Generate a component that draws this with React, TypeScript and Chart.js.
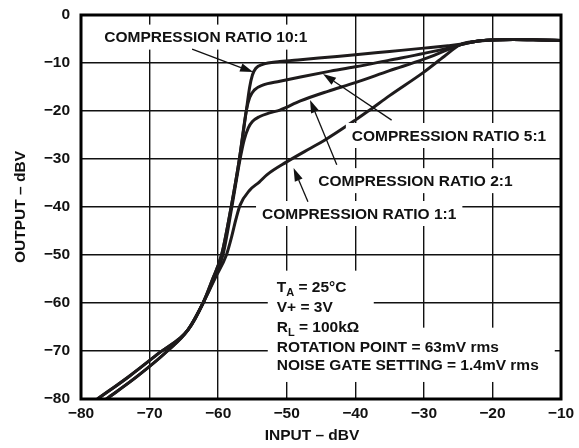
import React, { useEffect, useRef } from "react";
import { Chart, registerables } from "chart.js";

Chart.register(...registerables);

const FONT = '"Liberation Sans", Arial, Helvetica, sans-serif';

// Axis ranges / ticks
const xMin = -80;
const xMax = -10;
const yMin = -80;
const yMax = 0;
const tickStep = 10;

// Shared high-level tail (all ratios converge at the rotation point)
const tailX = [-22.5, -20, -17, -13, -10];
const tailY = [-5.5, -5.2, -5.1, -5.2, -5.3];

// COMPRESSION RATIO 10:1
const ratio10X = [-77.6, -73, -68.6, -64.4, -62.2, -60.8, -59.5, -58.1, -56.9, -55.9, -55.4, -55.0, -54.5, -53.5, -51, -48, -44, -40, -35, -30, -26.5, -24.7];
const ratio10Y = [-80, -75.3, -70.4, -65.6, -60, -55, -50, -40, -30, -20, -15, -12.5, -11.1, -10.3, -9.7, -9.3, -8.8, -8.3, -7.6, -6.9, -6.4, -6.1];

// COMPRESSION RATIO 5:1
const ratio5X = [-77.6, -73, -68.6, -64.4, -62.2, -60.8, -59.5, -58.1, -56.9, -55.9, -55.4, -54.7, -53.5, -51, -48, -44, -40, -35, -30, -26.5, -24.7];
const ratio5Y = [-80, -75.3, -70.4, -65.6, -60, -55, -50, -40, -30, -20, -17.2, -15.6, -14.6, -13.8, -12.9, -11.8, -10.8, -9.4, -8.0, -6.9, -6.2];

// COMPRESSION RATIO 2:1
const ratio2X = [-76.3, -72, -67.4, -64.4, -62.2, -60.6, -59.3, -58.0, -56.8, -56.2, -55.6, -55.0, -54.0, -52.5, -51, -48, -44, -40, -35, -30, -26.5, -24.7];
const ratio2Y = [-80, -75.5, -70, -65.6, -60, -55, -50, -40, -30, -26, -23.5, -22.2, -21.2, -20.4, -19.8, -17.9, -15.9, -14.1, -11.6, -9.2, -7.2, -6.2];

// COMPRESSION RATIO 1:1
const ratio1X = [-76.3, -72, -67.4, -64.4, -62.2, -60.5, -58.8, -58.0, -57.4, -56.8, -55.4, -54, -52.9, -50, -46.6, -44.6, -40, -38.1, -35, -30, -27, -24.7];
const ratio1Y = [-80, -75.5, -70, -65.6, -60, -55, -50, -46, -42.5, -39.6, -36.5, -34.8, -33.3, -30.6, -27.8, -26.2, -21.9, -20, -16.8, -11.9, -8.6, -6.2];

const seriesNames = ["COMPRESSION RATIO 10:1", "COMPRESSION RATIO 5:1", "COMPRESSION RATIO 2:1", "COMPRESSION RATIO 1:1"];

// Annotation label anchors (data coordinates: left edge x, vertical centre y)
const labelX = [-76.6, -40.5, -45.4, -53.6];
const labelY = [-4.5, -25.0, -34.4, -41.25];
// Arrows: from (tail) -> to (head), data coordinates
const arrowFromX = [-63.8, -34.7, -42.7, -46.9];
const arrowFromY = [-7.1, -21.9, -31.2, -38.9];
const arrowToX = [-54.9, -44.7, -46.6, -49.0];
const arrowToY = [-11.9, -12.3, -17.7, -31.9];

// Test conditions block
const condLeftX = -51.45;
const condLineY = [-56.6, -60.8, -64.8, -69.1, -72.7];

function toPairs(xs: number[], ys: number[]) {
  return xs.map((x, i) => ({ x, y: ys[i] }));
}

const minus = (s: string) => s.replace(/-/g, "\u2212");

const annotationPlugin = {
  id: "annotations",
  afterDatasetsDraw(chart: any) {
    const { ctx, chartArea, scales } = chart;
    const X = (v: number) => scales.x.getPixelForValue(v);
    const Y = (v: number) => scales.y.getPixelForValue(v);
    const fs = 15.5;
    const cap = fs * 0.358;
    ctx.save();
    ctx.font = `bold ${fs}px ${FONT}`;
    ctx.textAlign = "left";
    ctx.textBaseline = "alphabetic";

    // ratio labels with white backing
    seriesNames.forEach((t, i) => {
      const lx = X(labelX[i]);
      const cy = Y(labelY[i]);
      const w = ctx.measureText(t).width;
      ctx.fillStyle = "#fff";
      ctx.fillRect(lx - 6, cy - 12, w + 12, 25);
    });

    // conditions block backing
    const cl = X(condLeftX);
    const cys = condLineY.map(Y);
    ctx.fillStyle = "#fff";
    ctx.fillRect(cl - 9, cys[0] - 16, 106, cys[2] - cys[0] + 26);
    ctx.fillRect(cl - 9, cys[3] - 19, 287, cys[4] - cys[3] + 37);

    // ratio labels text
    ctx.fillStyle = "#111";
    seriesNames.forEach((t, i) => {
      ctx.fillText(t, X(labelX[i]), Y(labelY[i]) + cap);
    });

    // arrows
    ctx.strokeStyle = "#111";
    ctx.lineWidth = 1.3;
    for (let i = 0; i < arrowFromX.length; i++) {
      const x1 = X(arrowFromX[i]);
      const y1 = Y(arrowFromY[i]);
      const x2 = X(arrowToX[i]);
      const y2 = Y(arrowToY[i]);
      const a = Math.atan2(y2 - y1, x2 - x1);
      const hl = 13;
      const hw = 4.2;
      const bx = x2 - hl * Math.cos(a);
      const by = y2 - hl * Math.sin(a);
      ctx.beginPath();
      ctx.moveTo(x1, y1);
      ctx.lineTo(bx, by);
      ctx.stroke();
      ctx.beginPath();
      ctx.moveTo(x2, y2);
      ctx.lineTo(bx + hw * Math.sin(a), by - hw * Math.cos(a));
      ctx.lineTo(bx - hw * Math.sin(a), by + hw * Math.cos(a));
      ctx.closePath();
      ctx.fill();
    }

    // conditions text with subscripts
    const drawSub = (main: string, sub: string, rest: string, y: number) => {
      let x = cl;
      ctx.font = `bold ${fs}px ${FONT}`;
      ctx.fillText(main, x, y);
      x += ctx.measureText(main).width;
      ctx.font = `bold 11px ${FONT}`;
      ctx.fillText(sub, x, y + 4);
      x += ctx.measureText(sub).width;
      ctx.font = `bold ${fs}px ${FONT}`;
      ctx.fillText(rest, x, y);
    };
    drawSub("T", "A", " = 25°C", cys[0] + cap);
    ctx.font = `bold ${fs}px ${FONT}`;
    ctx.fillText("V+ = 3V", cl, cys[1] + cap);
    drawSub("R", "L", " = 100k\u03A9", cys[2] + cap);
    ctx.font = `bold ${fs}px ${FONT}`;
    ctx.fillText("ROTATION POINT = 63mV rms", cl, cys[3] + cap);
    ctx.fillText("NOISE GATE SETTING = 1.4mV rms", cl, cys[4] + cap);

    // frame
    ctx.strokeStyle = "#000";
    ctx.lineWidth = 3;
    ctx.strokeRect(chartArea.left, chartArea.top, chartArea.right - chartArea.left, chartArea.bottom - chartArea.top);

    // axis titles
    ctx.fillStyle = "#111";
    ctx.font = `bold ${fs}px ${FONT}`;
    ctx.textAlign = "center";
    ctx.textBaseline = "middle";
    ctx.fillText("INPUT \u2013 dBV", (chartArea.left + chartArea.right) / 2 - 9, chartArea.bottom + 37);
    ctx.save();
    ctx.translate(21, (chartArea.top + chartArea.bottom) / 2);
    ctx.rotate(-Math.PI / 2);
    ctx.fillText("OUTPUT \u2013 dBV", 0, 0);
    ctx.restore();
    ctx.restore();
  },
};

export default function App() {
  const canvasRef = useRef<HTMLCanvasElement | null>(null);

  useEffect(() => {
    if (!canvasRef.current) return;
    const lineStyle = {
      borderColor: "#1e1b1c",
      borderWidth: 3,
      pointRadius: 0,
      fill: false,
      cubicInterpolationMode: "monotone" as const,
    };
    const chart = new Chart(canvasRef.current, {
      type: "line",
      data: {
        datasets: [
          { label: seriesNames[0], data: toPairs(ratio10X.concat(tailX), ratio10Y.concat(tailY)), ...lineStyle },
          { label: seriesNames[1], data: toPairs(ratio5X.concat(tailX), ratio5Y.concat(tailY)), ...lineStyle },
          { label: seriesNames[2], data: toPairs(ratio2X.concat(tailX), ratio2Y.concat(tailY)), ...lineStyle },
          { label: seriesNames[3], data: toPairs(ratio1X.concat(tailX), ratio1Y.concat(tailY)), ...lineStyle },
        ],
      },
      options: {
        animation: false,
        responsive: true,
        maintainAspectRatio: false,
        layout: { padding: { top: 15, right: 18, left: 0, bottom: 0 } },
        plugins: {
          legend: { display: false },
          tooltip: { enabled: false },
        },
        scales: {
          x: {
            type: "linear",
            min: xMin,
            max: xMax,
            ticks: {
              stepSize: tickStep,
              padding: 0,
              color: "#111",
              font: { family: FONT, size: 15.5, weight: "bold" },
              callback: (v: any) => minus(String(v)),
            },
            grid: { color: "#111", lineWidth: 1.4, drawTicks: true, tickLength: 5, tickColor: "rgba(0,0,0,0)" },
            border: { display: false },
            afterFit: (scale: any) => {
              scale.height = 49;
            },
          },
          y: {
            type: "linear",
            min: yMin,
            max: yMax,
            ticks: {
              stepSize: tickStep,
              padding: 0,
              color: "#111",
              font: { family: FONT, size: 15.5, weight: "bold" },
              callback: (v: any) => minus(String(v)),
            },
            grid: { color: "#111", lineWidth: 1.4, drawTicks: true, tickLength: 11, tickColor: "rgba(0,0,0,0)" },
            border: { display: false },
            afterFit: (scale: any) => {
              scale.width = 81;
            },
          },
        },
      },
      plugins: [annotationPlugin],
    });
    return () => chart.destroy();
  }, []);

  return (
    <div style={{ position: "fixed", left: 0, top: 0, width: 579, height: 448, background: "#fff" }}>
      <canvas ref={canvasRef} />
    </div>
  );
}
